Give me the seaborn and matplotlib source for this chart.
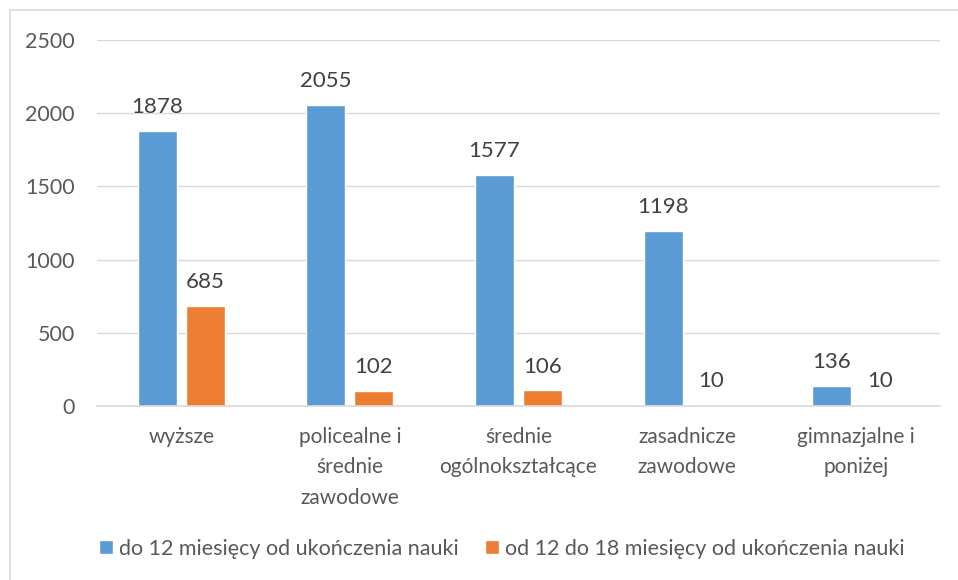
import pandas as pd
import matplotlib.pyplot as plt
import seaborn as sns
from matplotlib.patches import Rectangle

# dane
kategorie = ["wyższe", "policealne i\nśrednie\nzawodowe", "średnie\nogólnokształcące",
             "zasadnicze\nzawodowe", "gimnazjalne i\nponiżej"]
do_12 = [1878, 2055, 1577, 1198, 136]
od_12_do_18 = [685, 102, 106, 10, 10]
serie = ["do 12 miesięcy od ukończenia nauki", "od 12 do 18 miesięcy od ukończenia nauki"]

df = pd.DataFrame({
    "kategoria": kategorie * 2,
    "wartosc": do_12 + od_12_do_18,
    "seria": [serie[0]] * len(kategorie) + [serie[1]] * len(kategorie),
})

sns.set_style("white")
plt.rcParams['font.family'] = ['Lato', 'DejaVu Sans']

fig = plt.figure(figsize=(9.58, 5.8), dpi=100)
ax = fig.add_axes([97 / 958, 1 - 406 / 580, (940 - 97) / 958, (406 - 40) / 580])

# ramka wykresu (jak w Excelu)
fig.patches.append(Rectangle((10 / 958, -0.1), 1.1, 1 - 10 / 580 + 0.1, transform=fig.transFigure,
                             fill=False, edgecolor="#D9D9D9", linewidth=1.2, zorder=0))

sns.barplot(data=df, x="kategoria", y="wartosc", hue="seria", ax=ax,
            palette=["#5B9BD5", "#ED7D31"], saturation=1, width=0.57, gap=0.19, legend=True)

ax.set_ylim(0, 2500)
ax.set_xlim(-0.5, 4.5)
ax.set_yticks(range(0, 2501, 500))
ax.yaxis.grid(True, color="#D9D9D9", linewidth=1)
ax.set_axisbelow(True)
ax.set_xlabel("")
ax.set_ylabel("")
for s in ["top", "right", "left"]:
    ax.spines[s].set_visible(False)
ax.spines["bottom"].set_color("#D9D9D9")
ax.spines["bottom"].set_linewidth(1.2)
ax.tick_params(axis="both", length=0, labelsize=15, colors="#595959")
ax.tick_params(axis="y", labelsize=15.5, pad=16)
ax.tick_params(axis="x", pad=15)
for lab in ax.get_xticklabels():
    lab.set_linespacing(1.65)

for cont in ax.containers:
    ax.bar_label(cont, padding=10, fontsize=16, color="#404040")

leg = ax.legend(loc="center", bbox_to_anchor=(0.48, -0.39), ncol=2, frameon=False,
                fontsize=15.5, handlelength=0.65, handleheight=0.65, handletextpad=0.28,
                columnspacing=1.2)
for t in leg.get_texts():
    t.set_color("#595959")

fig.savefig("out.png", dpi=100)
